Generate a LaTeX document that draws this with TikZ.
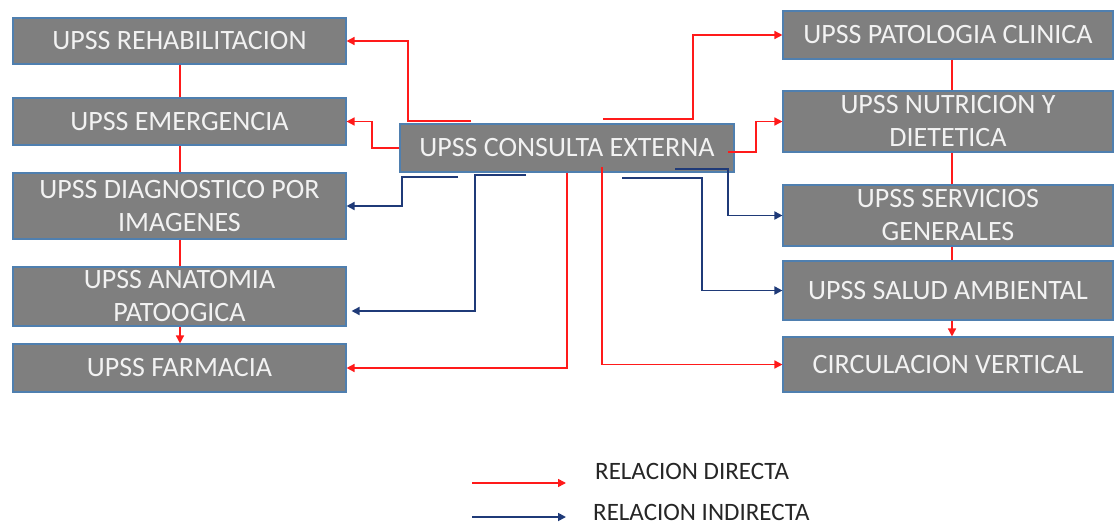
\documentclass[tikz,border=0pt]{standalone}
\usepackage{fontspec}
\setmainfont{Carlito}
\usetikzlibrary{arrows.meta,calc}
\definecolor{boxfill}{HTML}{7F7F7F}
\definecolor{boxline}{HTML}{4F7FAF}
\definecolor{boxtext}{HTML}{F2F2F2}
\definecolor{dirred}{HTML}{FF1A1A}
\definecolor{indblue}{HTML}{1F3A78}
\definecolor{legtext}{HTML}{262626}
\tikzset{
  unitbox/.style={draw=boxline, line width=1.1pt, fill=boxfill, text=boxtext,
    inner sep=0pt, align=center, font=\fontsize{28}{33}\selectfont},
  leftbox/.style={unitbox, minimum width=333pt},
  rightbox/.style={unitbox, minimum width=330pt},
  direct/.style={draw=dirred, line width=1.5pt, -{Triangle[length=8pt,width=8pt]}},
  directplain/.style={draw=dirred, line width=1.5pt},
  indirect/.style={draw=indblue, line width=1.7pt, -{Triangle[length=8pt,width=8pt]}},
  legendtext/.style={text=legtext, inner sep=0pt, anchor=west, font=\fontsize{25}{29}\selectfont},
}
\begin{document}
\begin{tikzpicture}[x=1pt, y=-1pt]
\useasboundingbox (0,0) rectangle (1114,527);

% left column
\node[leftbox, minimum height=46pt] (rehab) at (179.5,41) {UPSS REHABILITACION};
\node[leftbox, minimum height=47pt] (emerg) at (179.5,121.5) {UPSS EMERGENCIA};
\node[leftbox, minimum height=66pt] (diag) at (179.5,206) {UPSS DIAGNOSTICO POR\\IMAGENES};
\node[leftbox, minimum height=59pt] (anat) at (179.5,296.5) {UPSS ANATOMIA\\PATOOGICA};
\node[leftbox, minimum height=48pt] (farm) at (179.5,368) {UPSS FARMACIA};

% right column
\node[rightbox, minimum height=48pt] (pato) at (948,35) {UPSS PATOLOGIA CLINICA};
\node[rightbox, minimum height=61pt] (nutr) at (948,121.5) {UPSS NUTRICION Y\\DIETETICA};
\node[rightbox, minimum height=61pt] (serv) at (948,215.5) {UPSS SERVICIOS\\GENERALES};
\node[rightbox, minimum height=59pt] (salud) at (948,290.5) {UPSS SALUD AMBIENTAL};
\node[rightbox, minimum height=55pt] (circ) at (948,364.5) {CIRCULACION VERTICAL};

% center
\node[unitbox, minimum width=334pt, minimum height=48pt] (cons) at (567,148) {UPSS CONSULTA EXTERNA};

% free starts of connectors
\coordinate (s1) at (471,121);
\coordinate (s3) at (458,177);
\coordinate (s4) at (526,175);
\coordinate (s6) at (602,167);
\coordinate (s7) at (622,178);
\coordinate (s8) at (675,169);
\coordinate (s9) at (728,152);
\coordinate (s10) at (603,119);

% left connectors
\draw[direct] (s1) -- (408,121) |- (rehab.east);
\draw[direct] (cons.west) -- (372,148) |- (emerg.east);
\draw[indirect] (s3) -- (402,177) |- (diag.east);
\draw[indirect] (s4) -- (475,175) -- (475,311) -- ([xshift=5pt]anat.east |- 0,311);
\draw[direct] (cons.south) |- (farm.east);

% right connectors
\draw[direct] (s10) -- (693,119) |- (pato.west);
\draw[direct] (s9) -- (756,152) |- (nutr.west);
\draw[indirect] (s8) -- (728,169) |- (serv.west);
\draw[indirect] (s7) -- (702,178) |- (salud.west);
\draw[direct] (s6) |- (circ.west);

% vertical links left
\draw[directplain] ([xshift=0.5pt]rehab.south) -- ([xshift=0.5pt]emerg.north);
\draw[directplain] ([xshift=0.5pt]emerg.south) -- ([xshift=0.5pt]diag.north);
\draw[directplain] ([xshift=0.5pt]diag.south) -- ([xshift=0.5pt]anat.north);
\draw[direct] ([xshift=0.5pt]anat.south) -- ([xshift=0.5pt]farm.north);

% vertical links right
\draw[directplain] ([xshift=4pt]pato.south) -- ([xshift=4pt]nutr.north);
\draw[directplain] ([xshift=4pt]nutr.south) -- ([xshift=4pt]serv.north);
\draw[directplain] ([xshift=4pt]serv.south) -- ([xshift=4pt]salud.north);
\draw[direct] ([xshift=4pt]salud.south) -- ([xshift=4pt]circ.north);

% legend
\coordinate (l1a) at (472,483);
\coordinate (l1b) at (566,483);
\coordinate (l2a) at (472,517);
\coordinate (l2b) at (566,517);
\draw[direct] (l1a) -- (l1b);
\draw[indirect] (l2a) -- (l2b);
\node[legendtext] (ld) at (595,471) {RELACION DIRECTA};
\node[legendtext] (li) at (593,512) {RELACION INDIRECTA};
\end{tikzpicture}
\end{document}
